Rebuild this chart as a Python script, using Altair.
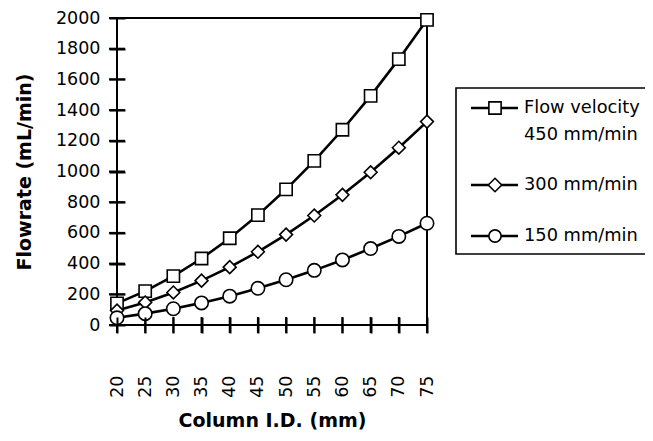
import altair as alt
import pandas as pd

# ---- data ----
diameters = [20, 25, 30, 35, 40, 45, 50, 55, 60, 65, 70, 75]
flow_450 = [141, 221, 318, 433, 565, 716, 884, 1069, 1272, 1493, 1732, 1988]
flow_300 = [94, 147, 212, 289, 377, 477, 589, 713, 848, 995, 1155, 1325]
flow_150 = [47, 74, 106, 144, 188, 239, 295, 356, 424, 498, 577, 663]
series_names = ["450 mm/min", "300 mm/min", "150 mm/min"]
series_shapes = ["square", "diamond", "circle"]
y_ticks = [0, 200, 400, 600, 800, 1000, 1200, 1400, 1600, 1800, 2000]

rows = []
for name, vals in zip(series_names, [flow_450, flow_300, flow_150]):
    for d, v in zip(diameters, vals):
        rows.append({"d": d, "flow": v, "series": name})
df = pd.DataFrame(rows)
ytick_df = pd.DataFrame({"flow": y_ticks})
xtick_df = pd.DataFrame({"d": diameters})

FONT = "DejaVu Sans"
axis_common = dict(
    domain=False, grid=False, ticks=True, tickColor="black", tickWidth=2,
    tickSize=16, offset=-8, tickOpacity=1, zindex=1,
    labelFont=FONT, labelFontSize=17.5, labelColor="black",
    titleFont=FONT, titleFontSize=19, titleFontWeight="bold", titleColor="black",
)

x_scale = alt.Scale(domain=[20, 75], nice=False, zero=False)
y_scale = alt.Scale(domain=[0, 2000], nice=False)
x_enc = alt.X(
    "d:Q", scale=x_scale,
    axis=alt.Axis(values=diameters, title="Column I.D. (mm)", labelAngle=270,
                  labelPadding=42, titlePadding=14, format="d", **axis_common),
)
y_enc = alt.Y(
    "flow:Q", scale=y_scale,
    axis=alt.Axis(values=y_ticks, title="Flowrate (mL/min)", labelPadding=9,
                  titlePadding=21, format="d", **axis_common),
)

# crossing tick marks drawn explicitly
ytick_rules = alt.Chart(ytick_df).mark_rule(color="black", strokeWidth=2).encode(
    y=y_enc, x=alt.value(-8), x2=alt.value(8)
)
xtick_rules = alt.Chart(xtick_df).mark_rule(color="black", strokeWidth=2).encode(
    x=x_enc, y=alt.value(299), y2=alt.value(315)
)

lines = alt.Chart(df).mark_line(color="black", strokeWidth=2.6).encode(
    x=x_enc, y=y_enc, detail="series:N"
)
points = alt.Chart(df).mark_point(
    filled=True, fill="white", stroke="black", strokeWidth=1.6, opacity=1
).encode(
    x=x_enc,
    y=y_enc,
    shape=alt.Shape("series:N", scale=alt.Scale(domain=series_names, range=series_shapes), legend=None),
    size=alt.Size("series:N", scale=alt.Scale(domain=series_names, range=[150, 180, 150]), legend=None),
)

# ---- hand-built legend (outside the plot area) ----
one = pd.DataFrame({"k": [0]})
legend_layers = [
    alt.Chart(one).mark_rect(fillOpacity=0, stroke="black", strokeWidth=1.6).encode(
        x=alt.value(339), x2=alt.value(620), y=alt.value(70), y2=alt.value(236)
    )
]
legend_items = [
    ("square", 150, 90, ["Flow velocity", "450 mm/min"]),
    ("diamond", 180, 167, ["300 mm/min"]),
    ("circle", 150, 218, ["150 mm/min"]),
]
for shp, sz, ly, texts in legend_items:
    legend_layers.append(
        alt.Chart(one).mark_rule(color="black", strokeWidth=2.6).encode(
            x=alt.value(354), x2=alt.value(401), y=alt.value(ly)
        )
    )
    legend_layers.append(
        alt.Chart(one).mark_point(
            filled=True, fill="white", stroke="black", strokeWidth=1.6, opacity=1,
            shape=shp, size=sz
        ).encode(x=alt.value(378), y=alt.value(ly))
    )
    for i, t in enumerate(texts):
        legend_layers.append(
            alt.Chart(one).mark_text(
                text=t, align="left", baseline="middle", font=FONT, fontSize=17.8,
                color="black"
            ).encode(x=alt.value(407), y=alt.value(ly + 27 * i))
        )

chart = alt.layer(ytick_rules, xtick_rules, lines, points, *legend_layers).properties(
    width=310,
    height=307,
    autosize=alt.AutoSizeParams(type="none"),
    padding={"left": 109, "top": 10, "right": 218, "bottom": 108},
).configure_view(
    stroke="black", strokeWidth=2
)

chart.save("out.html", embed_options={"renderer": "svg", "actions": False})
